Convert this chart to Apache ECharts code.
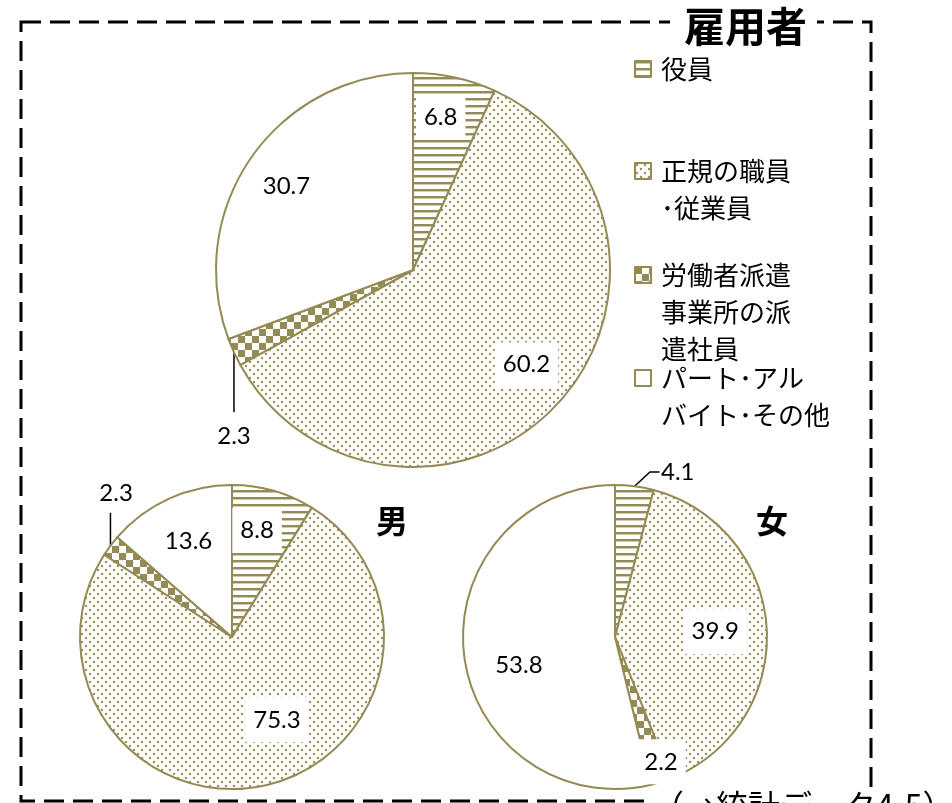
<!DOCTYPE html>
<html>
<head>
<meta charset="utf-8">
<script src="https://cdn.jsdelivr.net/npm/echarts@6/dist/echarts.min.js"></script>
<style>
  html, body { margin: 0; padding: 0; background: #fff; }
  #chart { width: 952px; height: 803px; }
</style>
</head>
<body>
<div id="chart"></div>
<script>
// 雇用者の従業上の地位別構成比（％）
const categories = ['役員', '正規の職員・従業員', '労働者派遣事業所の派遣社員', 'パート・アルバイト・その他'];
const legendLabels = ['役員', '正規の職員\n･従業員', '労働者派遣\n事業所の派\n遣社員', 'パート･アル\nバイト･その他'];
const totalValues = [6.8, 60.2, 2.3, 30.7];
const maleValues = [8.8, 75.3, 2.3, 13.6];
const femaleValues = [4.1, 39.9, 2.2, 53.8];
const pieTitles = ['雇用者', '男', '女'];
const sourceNote = '（→統計データ4-5）';

const OLIVE = '#948A54';
const DOT = '#9E9262';

function tile(w, h, draw) {
  const c = document.createElement('canvas');
  c.width = w; c.height = h;
  const ctx = c.getContext('2d');
  ctx.fillStyle = '#fff';
  ctx.fillRect(0, 0, w, h);
  draw(ctx);
  return c;
}
// fill patterns: stripes, dots, checker, plain
const patterns = [
  { image: tile(7, 7, ctx => { ctx.fillStyle = OLIVE; ctx.fillRect(0, 0, 7, 2); ctx.fillStyle = 'rgba(148,138,84,0.45)'; ctx.fillRect(0, 2, 7, 1); }), repeat: 'repeat' },
  { image: tile(8, 8, ctx => { ctx.fillStyle = DOT; ctx.beginPath(); ctx.arc(2, 2, 1.25, 0, Math.PI * 2); ctx.arc(6, 6, 1.25, 0, Math.PI * 2); ctx.fill(); }), repeat: 'repeat' },
  { image: tile(14, 14, ctx => { ctx.fillStyle = OLIVE; ctx.fillRect(0, 0, 7, 7); ctx.fillRect(7, 7, 7, 7); }), repeat: 'repeat' },
  '#ffffff'
];

// pie geometry
const pies = [
  { values: totalValues, center: [413, 270], R: 197 },
  { values: maleValues, center: [232, 637], R: 152 },
  { values: femaleValues, center: [615, 637], R: 152 }
];

// label placement: inside labels as (radius fraction, angle shift in degrees);
// callout labels as offsets from the slice's outer edge
const labelPlacement = [
  [ { r: 0.79, da: -2 }, { r: 0.75, da: -3 },
    { callout: true, label: [0, 84], align: 'center', line: [[0, 0], [0, 30], [0, 60]] },
    { r: 0.77, da: -1.3 } ],
  [ { r: 0.72, da: -2.6 }, { r: 0.62, da: -15.7 },
    { callout: true, label: [5.6, -52.7], align: 'center', line: [[0, 0], [0, -16], [0, -33]] },
    { r: 0.69, da: 0 } ],
  [ { callout: true, label: [26.5, -13.5], align: 'left', line: [[0, 0], [15.5, -14.3], [25, -14.3]] },
    { r: 0.66, da: 0.4 }, { r: 0.875, da: -2.6 }, { r: 0.66, da: -9.8 } ]
];

function midAngle(values, i) {
  const sum = values.reduce((a, b) => a + b, 0);
  let cum = 0;
  for (let k = 0; k < i; k++) cum += values[k];
  return (cum + values[i] / 2) / sum * 360;
}

function makeLayout(s) {
  const pie = pies[s];
  return function (p) {
    const pl = labelPlacement[s][p.dataIndex];
    const a = midAngle(pie.values, p.dataIndex);
    if (pl.callout) {
      const rad = a * Math.PI / 180;
      const ex = pie.center[0] + pie.R * Math.sin(rad);
      const ey = pie.center[1] - pie.R * Math.cos(rad);
      return {
        x: ex + pl.label[0], y: ey + pl.label[1],
        align: pl.align, verticalAlign: 'middle',
        labelLinePoints: pl.line.map(q => [ex + q[0], ey + q[1]])
      };
    }
    const rad = (a + pl.da) * Math.PI / 180;
    return {
      x: pie.center[0] + pl.r * pie.R * Math.sin(rad),
      y: pie.center[1] - pl.r * pie.R * Math.cos(rad),
      align: 'center', verticalAlign: 'middle'
    };
  };
}

const series = pies.map((pie, s) => ({
  type: 'pie',
  center: pie.center,
  radius: pie.R,
  startAngle: 90,
  clockwise: true,
  silent: true,
  animation: false,
  avoidLabelOverlap: false,
  emphasis: { disabled: true },
  itemStyle: { borderColor: OLIVE, borderWidth: 2 },
  label: {
    show: true, position: 'inside', formatter: '{c}',
    color: '#000', fontSize: 24, fontFamily: 'Lato',
    backgroundColor: '#fff', padding: [8, 8], lineHeight: 29
  },
  labelLine: { show: false },
  labelLayout: makeLayout(s),
  data: categories.map((name, i) => {
    const item = { name, value: pie.values[i], itemStyle: { color: patterns[i] } };
    if (labelPlacement[s][i].callout) {
      item.label = { position: 'outside', backgroundColor: 'transparent', padding: 0 };
      item.labelLine = { show: true, length: 10, length2: 10, lineStyle: { color: '#000', width: 1.5 } };
    }
    return item;
  })
}));

// legend: one component per entry so each sits at its own height
const LH = 37;
const legendIconY = [69, 171, 275, 378];
const legends = categories.map((name, i) => {
  const lines = legendLabels[i].split('\n');
  const n = lines.length;
  return {
    orient: 'vertical',
    left: 634,
    top: legendIconY[i] - (2 * n - 1) * LH / 2,
    padding: 0,
    itemWidth: 16, itemHeight: 16,
    icon: 'rect',
    selectedMode: false,
    itemStyle: { borderColor: OLIVE, borderWidth: 2 },
    data: [name],
    formatter: () => lines.map(l => '{t|' + l + '}').join('\n'),
    textStyle: {
      padding: [(n - 1) * LH, 0, 0, 5],
      backgroundColor: 'rgba(255,255,255,0)',
      lineHeight: LH,
      rich: { t: { fontSize: 26, lineHeight: LH, color: '#000', fontFamily: 'Noto Sans CJK JP' } }
    }
  };
});

const option = {
  backgroundColor: '#fff',
  animation: false,
  title: [
    { text: pieTitles[0], left: 670, top: 4, padding: [2, 10, 2, 14], backgroundColor: '#fff',
      textStyle: { fontSize: 41, fontWeight: 'bold', color: '#000', fontFamily: 'Noto Sans CJK JP', lineHeight: 41 } },
    { text: pieTitles[1], left: 376, top: 505, padding: 0,
      textStyle: { fontSize: 32, fontWeight: 'bold', color: '#000', fontFamily: 'Noto Sans CJK JP', lineHeight: 32 } },
    { text: pieTitles[2], left: 756, top: 505, padding: 0,
      textStyle: { fontSize: 32, fontWeight: 'bold', color: '#000', fontFamily: 'Noto Sans CJK JP', lineHeight: 32 } }
  ],
  legend: legends,
  graphic: [
    { type: 'rect', z: 0, silent: true,
      shape: { x: 21, y: 22, width: 850, height: 779 },
      style: { fill: null, stroke: '#000', lineWidth: 3, lineDash: [20, 9] } },
    { type: 'text', z: 10, silent: true, left: 648, top: 788,
      style: { text: sourceNote, fontSize: 32, fill: '#000', fontFamily: 'Noto Sans CJK JP',
               backgroundColor: '#fff', padding: [2, 4] } }
  ],
  series
};

const chart = echarts.init(document.getElementById('chart'), null, { renderer: 'canvas' });
chart.setOption(option);
</script>
</body>
</html>
